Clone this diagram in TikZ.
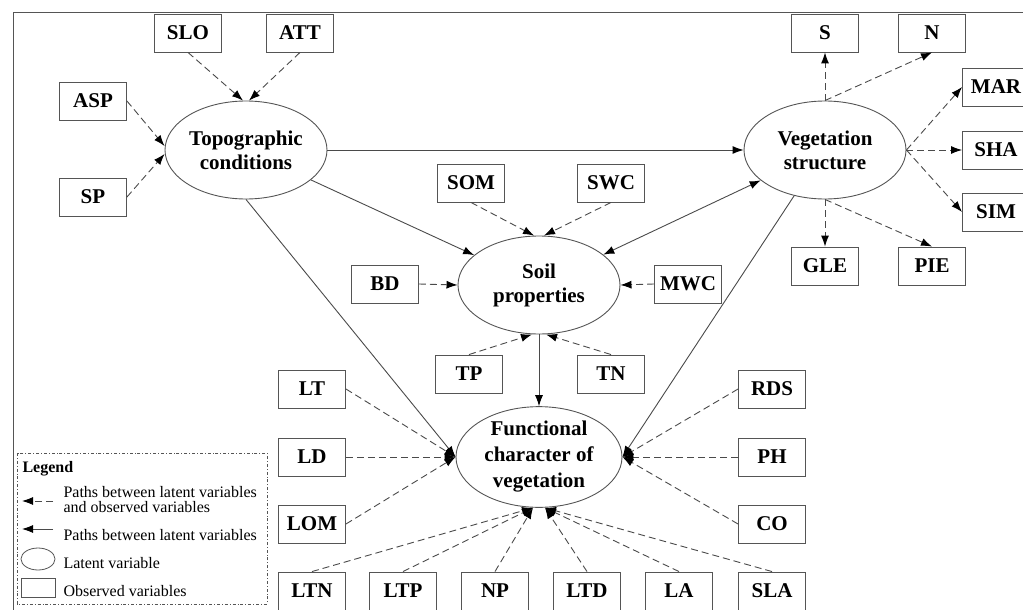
\documentclass[tikz,border=0pt]{standalone}
\usepackage{fontspec}
\setmainfont{Liberation Serif}
\usetikzlibrary{arrows.meta,shapes.geometric}
\definecolor{linegray}{HTML}{4A4A4A}
\definecolor{framegray}{HTML}{555555}

\begin{document}
\begin{tikzpicture}[
    x=1pt, y=-1pt,
    >={Latex[length=11pt,width=8pt,color=black]},
    latent/.style={
        ellipse,
        draw=framegray,
        line width=0.9pt,
        minimum width=162pt,
        minimum height=98pt,
        inner sep=0pt,
        align=center,
        font=\fontsize{21}{24}\selectfont\bfseries
    },
    observed/.style={
        rectangle,
        draw=framegray,
        line width=0.9pt,
        minimum width=67pt,
        minimum height=38pt,
        inner sep=0pt,
        font=\fontsize{21}{24}\selectfont\bfseries
    },
    dasharrow/.style={->, draw=linegray, line width=0.9pt, dash pattern=on 7pt off 4pt},
    patharrow/.style={->, draw=linegray, line width=0.9pt},
    legendtext/.style={anchor=west, align=left, font=\fontsize{16}{15}\selectfont}
]
    \useasboundingbox (0,0) rectangle (1023,610);

    % === OUTER FRAME ===
    \draw[framegray, line width=1pt] (13,640) -- (13,13) -- (1040,13);

    % === LATENT VARIABLES ===
    \node[latent] (topo) at (246,150) {Topographic\\conditions};
    \node[latent] (veg) at (825,150) {Vegetation\\structure};
    \node[latent] (soil) at (539,285) {Soil\\properties};
    \node[latent, minimum width=166pt, minimum height=100pt,
          font=\fontsize{21}{26}\selectfont\bfseries] (func) at (539,457) {Functional\\character of\\vegetation};

    % Topographic indicators
    \node[observed] (slo) at (188,33) {SLO};
    \node[observed] (att) at (300,33) {ATT};
    \node[observed] (asp) at (93,101) {ASP};
    \node[observed] (sp) at (93,197) {SP};

    % Vegetation indicators
    \node[observed] (s) at (825,33) {S};
    \node[observed] (n) at (932,33) {N};
    \node[observed] (mar) at (996,87) {MAR};
    \node[observed] (sha) at (996,150) {SHA};
    \node[observed] (sim) at (996,212) {SIM};
    \node[observed] (gle) at (825,266) {GLE};
    \node[observed] (pie) at (932,266) {PIE};

    % Soil indicators
    \node[observed] (som) at (471,183) {SOM};
    \node[observed] (swc) at (611,183) {SWC};
    \node[observed] (bd) at (385,284) {BD};
    \node[observed] (mwc) at (688,284) {MWC};
    \node[observed] (tp) at (469,374) {TP};
    \node[observed] (tn) at (611,374) {TN};

    % Functional indicators
    \node[observed] (lt) at (312,389) {LT};
    \node[observed] (ld) at (312,457) {LD};
    \node[observed] (lom) at (312,524) {LOM};
    \node[observed] (rds) at (772,389) {RDS};
    \node[observed] (ph) at (772,457) {PH};
    \node[observed] (co) at (772,524) {CO};
    \node[observed] (ltn) at (312,591) {LTN};
    \node[observed] (ltp) at (403,591) {LTP};
    \node[observed] (np) at (495,591) {NP};
    \node[observed] (ltd) at (587,591) {LTD};
    \node[observed] (la) at (679,591) {LA};
    \node[observed] (sla) at (772,591) {SLA};

    % === PATHS BETWEEN LATENT VARIABLES ===
    \draw[patharrow] (topo.east) -- (veg.west);
    \draw[patharrow] (topo) -- (soil);
    \draw[patharrow, <->] (soil) -- (veg);
    \draw[patharrow] (topo.south) -- (func.west);
    \draw[patharrow] (veg.236) -- (func.east);
    \draw[patharrow] (soil.south) -- (func.north);

    % === PATHS TO OBSERVED VARIABLES ===
    \draw[dasharrow] (slo.south) -- ([xshift=-3pt]topo.north);
    \draw[dasharrow] (att.south) -- ([xshift=3pt]topo.north);
    \draw[dasharrow] (asp.east) -- ([yshift=4pt]topo.west);
    \draw[dasharrow] (sp.east) -- ([yshift=-4pt]topo.west);

    \draw[dasharrow] (veg.north) -- (s.south);
    \draw[dasharrow] (veg.north) -- (n.south);
    \draw[dasharrow] (veg.east) -- (mar.west);
    \draw[dasharrow] (veg.east) -- (sha.west);
    \draw[dasharrow] (veg.east) -- (sim.west);
    \draw[dasharrow] (veg.south) -- (gle.north);
    \draw[dasharrow] (veg.south) -- (pie.north);

    \draw[dasharrow] (som.south) -- ([xshift=-5pt]soil.north);
    \draw[dasharrow] (swc.south) -- ([xshift=5pt]soil.north);
    \draw[dasharrow] (bd.east) -- (soil.west);
    \draw[dasharrow] (mwc.west) -- (soil.east);
    \draw[dasharrow] (tp.north) -- ([xshift=-7pt]soil.south);
    \draw[dasharrow] (tn.north) -- ([xshift=7pt]soil.south);

    \draw[dasharrow] (lt.east) -- (func.west);
    \draw[dasharrow] (ld.east) -- (func.west);
    \draw[dasharrow] (lom.east) -- (func.west);
    \draw[dasharrow] (rds.west) -- (func.east);
    \draw[dasharrow] (ph.west) -- (func.east);
    \draw[dasharrow] (co.west) -- (func.east);
    \draw[dasharrow] (ltn.north) -- ([xshift=-6pt]func.south);
    \draw[dasharrow] (ltp.north) -- ([xshift=-6pt]func.south);
    \draw[dasharrow] (np.north) -- ([xshift=-6pt]func.south);
    \draw[dasharrow] (ltd.north) -- ([xshift=6pt]func.south);
    \draw[dasharrow] (la.north) -- ([xshift=6pt]func.south);
    \draw[dasharrow] (sla.north) -- ([xshift=6pt]func.south);

    % === LEGEND ===
    \draw[framegray, line width=0.8pt, dash dot] (17,453) rectangle (267,604);
    \node[legendtext, font=\fontsize{16}{15}\selectfont\bfseries] (legtitle) at (19,469) {Legend};
    \draw[dasharrow] (53,501) -- (22,501);
    \node[legendtext] (legdash) at (60,500) {Paths between latent variables\\and observed variables};
    \draw[patharrow] (53,529) -- (22,529);
    \node[legendtext] (legsolid) at (60,535) {Paths between latent variables};
    \node[ellipse, draw=framegray, line width=0.8pt, minimum width=34pt, minimum height=22pt, inner sep=0pt] (legell) at (38,559) {};
    \node[legendtext] (leglatent) at (60,563) {Latent variable};
    \node[rectangle, draw=framegray, line width=0.8pt, minimum width=34pt, minimum height=19pt, inner sep=0pt] (legrect) at (38,588) {};
    \node[legendtext] (legobs) at (60,591) {Observed variables};
\end{tikzpicture}
\end{document}
